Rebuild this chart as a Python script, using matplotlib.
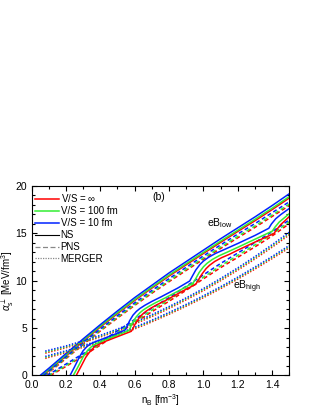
import matplotlib
matplotlib.use("Agg")
import matplotlib.pyplot as plt
from matplotlib.lines import Line2D
from matplotlib.ticker import MultipleLocator, FormatStrFormatter

plt.rcParams["font.family"] = ["Liberation Sans", "DejaVu Sans"]
plt.rcParams["mathtext.fontset"] = "custom"
plt.rcParams["mathtext.rm"] = "Liberation Sans"
plt.rcParams["mathtext.it"] = "Liberation Sans:italic"

# ---------------------------------------------------------------------------
# Data (n_B in fm^-3, alpha in MeV/fm^2)
# ---------------------------------------------------------------------------

# eB_low, NS (solid)
ns_low_x_blue = [0.05, 0.1, 0.2, 0.3, 0.4, 0.5, 0.6, 0.7, 0.8, 0.9, 1.0, 1.1, 1.2, 1.3, 1.4, 1.5]
ns_low_blue = [0, 0.75, 2.3, 3.85, 5.35, 6.8, 8.2, 9.5, 10.8, 12.0, 13.2, 14.4, 15.55, 16.7, 17.9, 19.15]
ns_low_x_green = [0.058, 0.1, 0.2, 0.3, 0.4, 0.5, 0.6, 0.7, 0.8, 0.9, 1.0, 1.1, 1.2, 1.3, 1.4, 1.5]
ns_low_green = [0, 0.6, 2.15, 3.7, 5.2, 6.62, 8.0, 9.3, 10.58, 11.78, 12.97, 14.15, 15.3, 16.45, 17.62, 18.85]
ns_low_x_red = [0.064, 0.1, 0.2, 0.3, 0.4, 0.5, 0.6, 0.7, 0.8, 0.9, 1.0, 1.1, 1.2, 1.3, 1.4, 1.5]
ns_low_red = [0, 0.5, 2.05, 3.6, 5.1, 6.52, 7.9, 9.2, 10.47, 11.66, 12.85, 14.02, 15.17, 16.3, 17.47, 18.7]

# eB_low, PNS (dashed)
pns_low_x_blue = [0.07, 0.1, 0.2, 0.3, 0.4, 0.5, 0.6, 0.7, 0.8, 0.9, 1.0, 1.1, 1.2, 1.3, 1.4, 1.5]
pns_low_blue = [0, 0.45, 1.95, 3.45, 4.9, 6.3, 7.65, 8.95, 10.2, 11.4, 12.6, 13.75, 14.9, 16.0, 17.15, 18.3]
pns_low_x_green = [0.075, 0.1, 0.2, 0.3, 0.4, 0.5, 0.6, 0.7, 0.8, 0.9, 1.0, 1.1, 1.2, 1.3, 1.4, 1.5]
pns_low_green = [0, 0.38, 1.85, 3.33, 4.77, 6.15, 7.48, 8.77, 10.0, 11.2, 12.38, 13.52, 14.65, 15.75, 16.9, 18.05]
pns_low_x_red = [0.08, 0.1, 0.2, 0.3, 0.4, 0.5, 0.6, 0.7, 0.8, 0.9, 1.0, 1.1, 1.2, 1.3, 1.4, 1.5]
pns_low_red = [0, 0.3, 1.77, 3.25, 4.68, 6.05, 7.38, 8.66, 9.88, 11.07, 12.24, 13.38, 14.5, 15.6, 16.75, 17.9]

# eB_high, NS (solid, Landau-level kinks)
ns_high_x_blue = [0.224, 0.25, 0.28, 0.30, 0.32, 0.34, 0.37, 0.40, 0.45, 0.50, 0.545, 0.555, 0.57, 0.59,
                  0.61, 0.63, 0.66, 0.70, 0.75, 0.85, 0.92, 0.935, 0.955, 0.98, 1.0, 1.03, 1.07, 1.12,
                  1.2, 1.3, 1.38, 1.395, 1.42, 1.45, 1.5]
ns_high_blue = [0, 0.9, 2.0, 2.6, 3.0, 3.3, 3.55, 3.75, 4.1, 4.45, 4.8, 5.15, 5.75, 6.35,
                6.75, 7.05, 7.4, 7.8, 8.25, 9.2, 9.95, 10.45, 11.1, 11.7, 12.05, 12.45, 12.85, 13.25,
                13.9, 14.75, 15.5, 15.95, 16.5, 16.95, 17.6]
ns_high_x_green = [0.243, 0.27, 0.30, 0.32, 0.34, 0.36, 0.39, 0.42, 0.47, 0.52, 0.565, 0.575, 0.59, 0.61,
                   0.63, 0.65, 0.68, 0.72, 0.77, 0.87, 0.94, 0.955, 0.975, 1.0, 1.02, 1.05, 1.09, 1.14,
                   1.2, 1.3, 1.40, 1.415, 1.44, 1.47, 1.5]
ns_high_green = [0, 0.9, 1.95, 2.5, 2.9, 3.2, 3.45, 3.7, 4.05, 4.4, 4.72, 5.05, 5.65, 6.2,
                 6.6, 6.9, 7.25, 7.65, 8.1, 9.05, 9.75, 10.2, 10.85, 11.45, 11.8, 12.2, 12.6, 13.0,
                 13.5, 14.35, 15.2, 15.6, 16.15, 16.6, 17.05]
ns_high_x_red = [0.26, 0.285, 0.315, 0.335, 0.355, 0.37, 0.40, 0.43, 0.48, 0.53, 0.58, 0.59, 0.605, 0.625,
                 0.645, 0.665, 0.695, 0.735, 0.78, 0.88, 0.955, 0.97, 0.99, 1.015, 1.035, 1.065, 1.105, 1.15,
                 1.2, 1.3, 1.41, 1.425, 1.45, 1.48, 1.5]
ns_high_red = [0, 0.85, 1.9, 2.4, 2.8, 3.1, 3.35, 3.6, 3.95, 4.3, 4.65, 4.95, 5.5, 6.05,
               6.45, 6.75, 7.1, 7.5, 7.9, 8.9, 9.6, 10.05, 10.65, 11.25, 11.6, 12.0, 12.4, 12.75,
               13.2, 14.05, 14.95, 15.35, 15.9, 16.4, 16.75]

# eB_high, PNS (dashed)
pns_high_x_blue = [0.09, 0.2, 0.3, 0.4, 0.5, 0.6, 0.7, 0.8, 0.9, 1.0, 1.1, 1.2, 1.3, 1.4, 1.5]
pns_high_blue = [0, 1.2, 2.3, 3.5, 4.7, 5.9, 7.1, 8.2, 9.4, 10.6, 11.8, 12.9, 14.0, 15.15, 16.4]
pns_high_x_green = [0.1, 0.2, 0.3, 0.4, 0.5, 0.6, 0.7, 0.8, 0.9, 1.0, 1.1, 1.2, 1.3, 1.4, 1.5]
pns_high_green = [0, 1.05, 2.15, 3.33, 4.5, 5.7, 6.88, 7.98, 9.15, 10.35, 11.55, 12.65, 13.75, 14.9, 16.2]
pns_high_x_red = [0.11, 0.2, 0.3, 0.4, 0.5, 0.6, 0.7, 0.8, 0.9, 1.0, 1.1, 1.2, 1.3, 1.4, 1.5]
pns_high_red = [0, 0.95, 2.05, 3.2, 4.38, 5.55, 6.72, 7.82, 8.98, 10.18, 11.36, 12.45, 13.55, 14.7, 16.0]

# MERGER (dotted), two field strengths
merger_x = [0.08, 0.2, 0.3, 0.4, 0.5, 0.6, 0.7, 0.8, 0.9, 1.0, 1.1, 1.2, 1.3, 1.4, 1.5]
merger_a_blue = [2.57, 3.11, 3.64, 4.23, 4.89, 5.61, 6.40, 7.26, 8.18, 9.16, 10.22, 11.34, 12.53, 13.78, 15.1]
merger_a_green = [2.45, 3.0, 3.54, 4.13, 4.79, 5.51, 6.3, 7.16, 8.07, 9.05, 10.1, 11.22, 12.4, 13.64, 14.95]
merger_a_red = [2.35, 2.92, 3.46, 4.05, 4.7, 5.42, 6.2, 7.06, 7.97, 8.94, 9.99, 11.1, 12.28, 13.52, 14.82]
merger_b_blue = [2.01, 2.60, 3.14, 3.74, 4.38, 5.08, 5.83, 6.64, 7.49, 8.40, 9.35, 10.36, 11.43, 12.54, 13.7]
merger_b_green = [1.9, 2.5, 3.05, 3.65, 4.29, 4.99, 5.74, 6.54, 7.39, 8.3, 9.25, 10.25, 11.32, 12.43, 13.58]
merger_b_red = [1.8, 2.42, 2.97, 3.57, 4.21, 4.9, 5.65, 6.45, 7.3, 8.2, 9.15, 10.15, 11.21, 12.32, 13.46]

RED, GREEN, BLUE = "#ff0000", "#33ee33", "#0022ff"
DASH = (0, (2.6, 1.8))
DOT = (0, (0.9, 1.1))
LW = 1.1

# ---------------------------------------------------------------------------
fig = plt.figure(figsize=(3.15, 4.07), dpi=100)
ax = fig.add_axes([0.1, 0.0774, 0.819, 0.4668])

curves = [
    (ns_low_x_red, ns_low_red, RED, "-"), (ns_low_x_green, ns_low_green, GREEN, "-"),
    (ns_low_x_blue, ns_low_blue, BLUE, "-"),
    (pns_low_x_red, pns_low_red, RED, DASH), (pns_low_x_green, pns_low_green, GREEN, DASH),
    (pns_low_x_blue, pns_low_blue, BLUE, DASH),
    (merger_x, merger_a_red, RED, DOT), (merger_x, merger_a_green, GREEN, DOT),
    (merger_x, merger_a_blue, BLUE, DOT),
    (merger_x, merger_b_red, RED, DOT), (merger_x, merger_b_green, GREEN, DOT),
    (merger_x, merger_b_blue, BLUE, DOT),
    (pns_high_x_red, pns_high_red, RED, DASH), (pns_high_x_green, pns_high_green, GREEN, DASH),
    (pns_high_x_blue, pns_high_blue, BLUE, DASH),
    (ns_high_x_red, ns_high_red, RED, "-"), (ns_high_x_green, ns_high_green, GREEN, "-"),
    (ns_high_x_blue, ns_high_blue, BLUE, "-"),
]
for xs, ys, col, ls in curves:
    ax.plot(xs, ys, color=col, linestyle=ls, linewidth=LW)

ax.set_xlim(0, 1.5)
ax.set_ylim(0, 20)
ax.xaxis.set_major_locator(MultipleLocator(0.2))
ax.xaxis.set_minor_locator(MultipleLocator(0.1))
ax.yaxis.set_major_locator(MultipleLocator(5))
ax.yaxis.set_minor_locator(MultipleLocator(1))
ax.tick_params(which="both", direction="in", top=True, right=True, labelsize=7.5, width=0.8)
ax.tick_params(which="major", length=3.5)
ax.tick_params(which="minor", length=2)
ax.tick_params(axis="x", which="major", pad=3.2)
ax.tick_params(axis="y", which="major", pad=3.2)
ax.xaxis.set_major_formatter(FormatStrFormatter("%.1f"))
for sp in ax.spines.values():
    sp.set_linewidth(0.8)

ax.set_xlabel(r"n$_{\mathrm{B}}$ [fm$^{-3}$]", fontsize=7)
ax.xaxis.set_label_coords(0.5, -0.087)
ax.set_ylabel(r"$\alpha^{\perp}_{\mathrm{s}}$ [MeV/fm$^{3}$]", fontsize=7)
ax.yaxis.set_label_coords(-0.06, 0.5)

ax.text(0.70, 18.8, "(b)", fontsize=7.5, va="center")
ax.text(1.02, 16.0, r"eB$_{\mathrm{low}}$", fontsize=7.5, va="center")
ax.text(1.17, 9.3, r"eB$_{\mathrm{high}}$", fontsize=7.5, va="center")

handles = [
    Line2D([], [], color=RED, lw=LW),
    Line2D([], [], color=GREEN, lw=LW),
    Line2D([], [], color=BLUE, lw=LW),
    Line2D([], [], color="black", lw=0.8),
    Line2D([], [], color="#888888", lw=0.9, linestyle=(0, (4, 2))),
    Line2D([], [], color="#888888", lw=0.9, linestyle=(0, (1, 1))),
]
labels = [r"V/S = $\infty$", "V/S = 100 fm", "V/S = 10 fm", "NS", "PNS", "MERGER"]
ax.legend(handles, labels, loc="upper left", bbox_to_anchor=(0.015, 0.965), frameon=False,
          fontsize=7, borderpad=0, borderaxespad=0, handlelength=2.4, handletextpad=0.2,
          labelspacing=0.2)

fig.savefig("out.png", dpi=100)
